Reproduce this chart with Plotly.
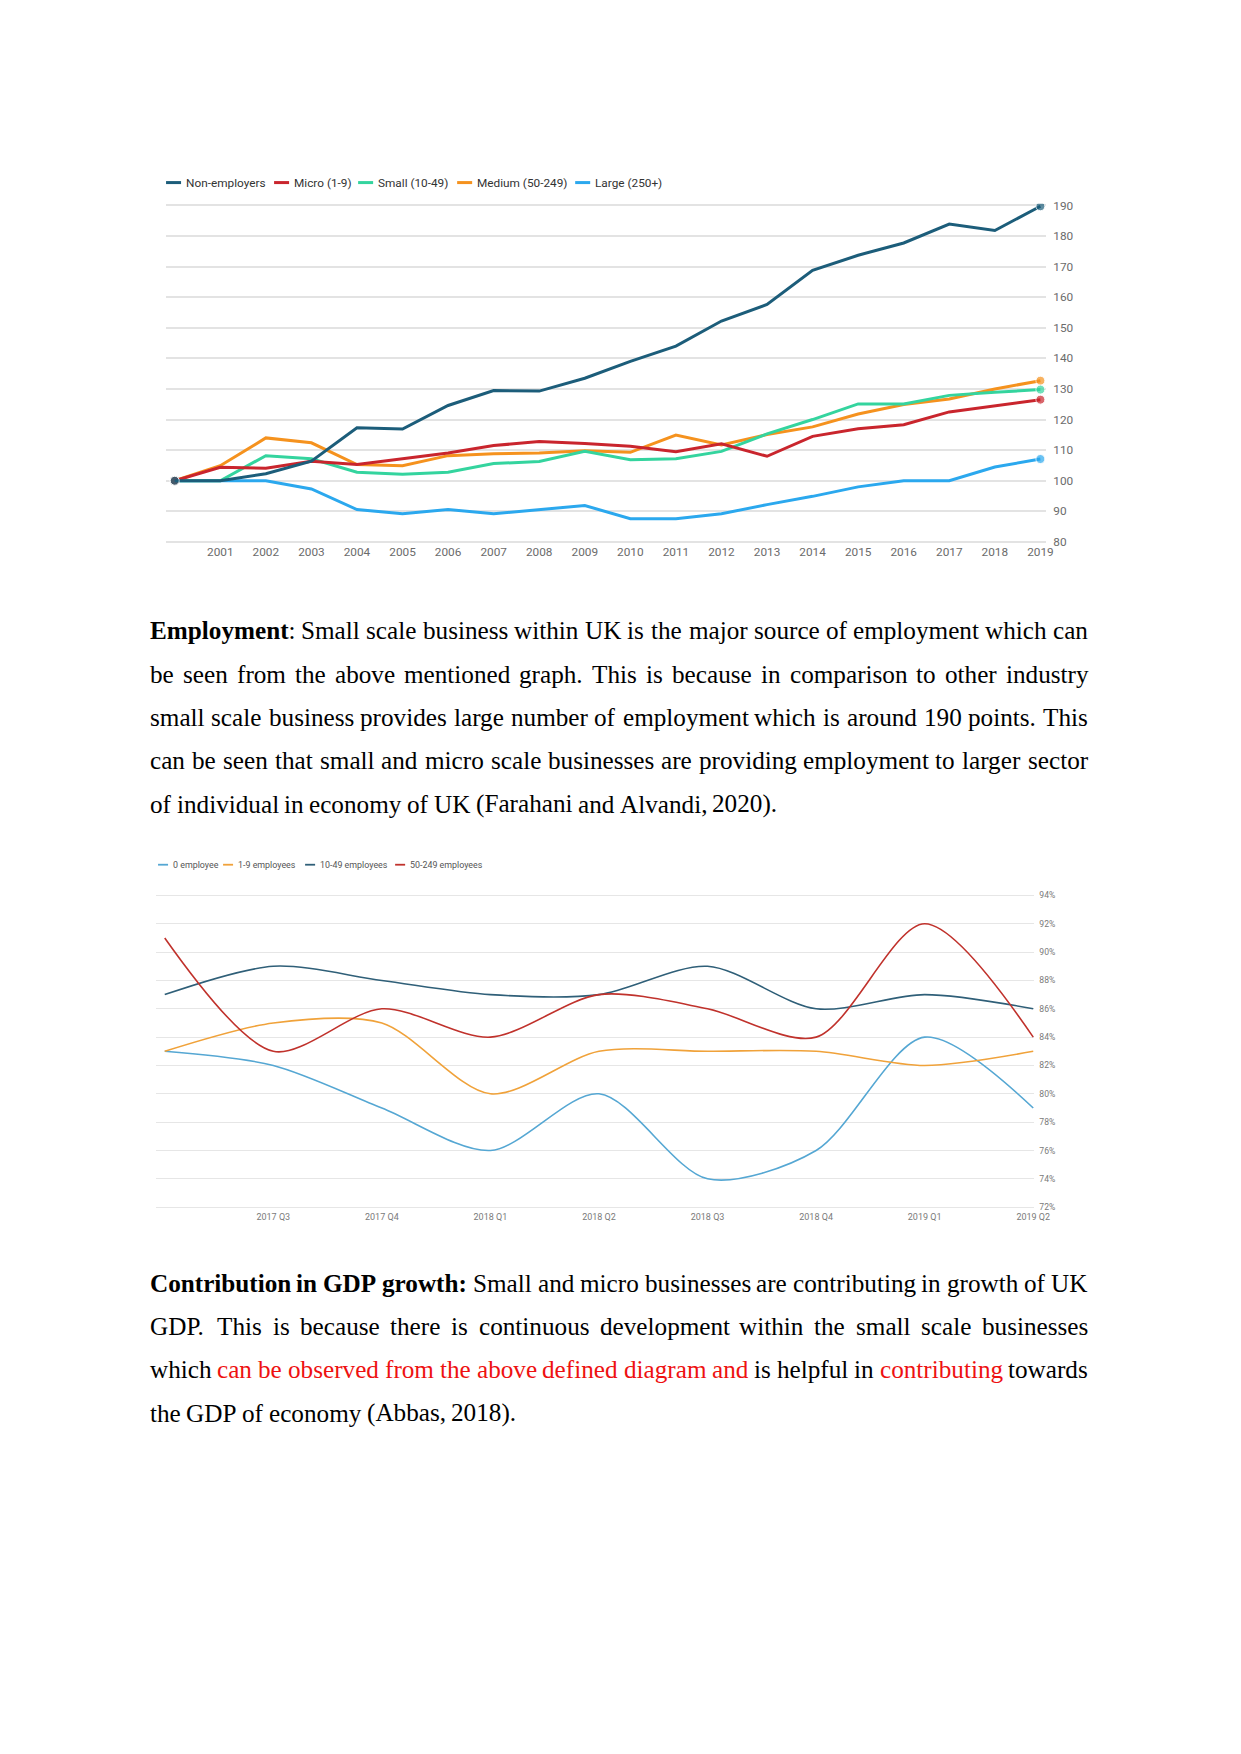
import html
import plotly.graph_objects as go

W, H = 1241, 1754

# ---------------- Chart 1 data: employment index (2000 = 100) ----------------
years = list(range(2000, 2020))
year_ticks = list(range(2001, 2020))
index_ticks = list(range(80, 200, 10))
series1_names = ["Non-employers", "Micro (1-9)", "Small (10-49)", "Medium (50-249)", "Large (250+)"]
non_employers = [100, 100, 102.3, 106.4, 117.3, 116.9, 124.6, 129.5, 129.3, 133.5, 139.0, 144.0, 152.2, 157.6, 168.8, 173.7, 177.7, 183.9, 181.8, 189.7]
micro = [100, 104.4, 104.1, 106.4, 105.3, 107.1, 109.1, 111.5, 112.8, 112.2, 111.3, 109.5, 112.1, 108.0, 114.5, 117.0, 118.3, 122.5, 124.6, 126.5]
small = [100, 100, 108.2, 107.2, 102.8, 102.1, 102.8, 105.6, 106.3, 109.6, 106.9, 107.2, 109.6, 115.3, 120.0, 125.1, 125.1, 127.9, 128.9, 129.8]
medium = [100, 104.9, 114.0, 112.4, 105.3, 104.9, 108.2, 108.8, 109.1, 109.8, 109.3, 114.9, 111.7, 115.1, 117.6, 121.8, 124.9, 126.7, 130.0, 132.7]
large = [100, 100, 100, 97.3, 90.6, 89.2, 90.6, 89.2, 90.6, 91.9, 87.6, 87.6, 89.2, 92.2, 94.9, 98.0, 100, 100, 104.5, 107.1]
series1_values = [non_employers, micro, small, medium, large]
series1_colors = ["#1c5d7a", "#c9252d", "#34d49e", "#f5921e", "#2ba8ee"]

# ---------------- Chart 2 data: quarterly percentages ----------------
quarters = ["2017 Q2", "2017 Q3", "2017 Q4", "2018 Q1", "2018 Q2", "2018 Q3", "2018 Q4", "2019 Q1", "2019 Q2"]
quarter_ticks = quarters[1:]
pct_ticks = list(range(72, 96, 2))
pct_labels = [f"{v}%" for v in pct_ticks]
series2_names = ["0 employee", "1-9 employees", "10-49 employees", "50-249 employees"]
emp_0 = [83, 82, 79, 76, 80, 74, 76, 84, 79]
emp_1_9 = [83, 85, 85, 80, 83, 83, 83, 82, 83]
emp_10_49 = [87, 89, 88, 87, 87, 89, 86, 87, 86]
emp_50_249 = [91, 83, 86, 84, 87, 86, 84, 92, 84]
series2_values = [emp_0, emp_1_9, emp_10_49, emp_50_249]
series2_colors = ["#55a7d3", "#f0a23a", "#2f5f78", "#c0322c"]

# ---------------- Body text ----------------
para1 = [
    "**Employment**: Small scale business within UK is the major source of employment which can",
    "be seen from the above mentioned graph. This is because in comparison to other industry",
    "small scale business provides large number of employment which is around 190 points. This",
    "can be seen that small and micro scale businesses are providing employment to larger sector",
    "of individual in economy of UK (Farahani and Alvandi, 2020).",
]
para2 = [
    "**Contribution in GDP growth:** Small and micro businesses are contributing in growth of UK",
    "GDP. This is because there is continuous development within the small scale businesses",
    "which {can be observed from the above defined diagram and} is helpful in {contributing} towards",
    "the GDP of economy (Abbas, 2018).",
]

# page-pixel helpers (with a small calibration for the capture)
SX = 1 / 0.9868


def X(x):
    return x * SX


def Y(y):
    return (y - 4.7) / 0.9944


def px(x):
    return X(x) / W


def py(y):
    return 1 - Y(y) / H


fig = go.Figure()

for name, vals, col in reversed(list(zip(series1_names, series1_values, series1_colors))):
    sizes = [0] * len(vals)
    sizes[0] = 9
    sizes[-1] = 9
    fig.add_trace(go.Scatter(
        x=years, y=vals, name=name, mode="lines+markers",
        line=dict(color=col, width=3), marker=dict(size=sizes, color=col),
        xaxis="x", yaxis="y", showlegend=False))

for name, vals, col in zip(series2_names, series2_values, series2_colors):
    fig.add_trace(go.Scatter(
        x=quarters, y=vals, name=name, mode="lines",
        line=dict(color=col, width=1.6, shape="spline", smoothing=0.85),
        xaxis="x2", yaxis="y2", showlegend=False))

tick1 = dict(family="Roboto", size=11.8, color="#6b6b6b")
tick2x = dict(family="Roboto", size=9, color="#7a7a7a")
tick2y = dict(family="Roboto", size=8.6, color="#7a7a7a")

fig.update_layout(
    width=W, height=H, margin=dict(l=0, r=0, t=0, b=0),
    paper_bgcolor="white", plot_bgcolor="white", showlegend=False,
    font=dict(family="Roboto"),
    xaxis=dict(domain=[px(166), px(1046)], range=[1999.81, 2019.13], tickmode="array",
               tickvals=year_ticks, showgrid=False, zeroline=False, showline=False,
               ticks="", tickfont=tick1, anchor="y", fixedrange=True),
    yaxis=dict(domain=[py(542.0 + 1.53), py(205.2 - 1.53)], range=[79.5, 190.5], side="right",
               tickmode="array", tickvals=index_ticks, gridcolor="#e3e3e3", gridwidth=1.5,
               zeroline=False, showline=False, ticks="", tickfont=tick1, anchor="x",
               ticklabelstandoff=6, fixedrange=True),
    xaxis2=dict(domain=[px(156), px(1034)], type="category", categoryorder="array",
                categoryarray=quarters, range=[-0.08, 8.01], tickmode="array",
                tickvals=quarter_ticks, showgrid=False, zeroline=False, showline=False,
                ticks="", tickfont=tick2x, anchor="y2", ticklabelstandoff=1, fixedrange=True),
    yaxis2=dict(domain=[py(1209.1), py(894.3)], range=[71.9, 94.1], side="right",
                tickmode="array", tickvals=pct_ticks, ticktext=pct_labels, gridcolor="#e6e6e6",
                gridwidth=1.2, zeroline=False, showline=False, ticks="", tickfont=tick2y,
                anchor="x2", ticklabelstandoff=4, fixedrange=True),
)

shapes = []
annotations = []

# Legend chart 1
legend1_x = [166, 274, 358, 457, 575]
for x0, name, col in zip(legend1_x, series1_names, series1_colors):
    shapes.append(dict(type="line", xref="paper", yref="paper", x0=px(x0), x1=px(x0 + 15),
                       y0=py(182.4), y1=py(182.4), line=dict(color=col, width=3)))
    annotations.append(dict(xref="paper", yref="paper", x=px(x0 + 19), y=py(182.4),
                            xanchor="left", yanchor="middle", showarrow=False, borderpad=0,
                            text=name, font=dict(family="Roboto", size=11.8, color="#333333")))

# Legend chart 2
legend2_x = [158, 223, 305, 395]
for x0, name, col in zip(legend2_x, series2_names, series2_colors):
    shapes.append(dict(type="line", xref="paper", yref="paper", x0=px(x0), x1=px(x0 + 10),
                       y0=py(865), y1=py(865), line=dict(color=col, width=1.8)))
    annotations.append(dict(xref="paper", yref="paper", x=px(x0 + 14), y=py(865),
                            xanchor="left", yanchor="middle", showarrow=False, borderpad=0,
                            text=name, font=dict(family="Roboto", size=8.9, color="#555555")))

# ---------------- Justified body text ----------------
REG = {' ': 250, '!': 333, '(': 333, ')': 333, ',': 250, '-': 333, '.': 250, ':': 278, ';': 278,
       'A': 722, 'B': 667, 'C': 667, 'D': 722, 'E': 611, 'F': 556, 'G': 722, 'H': 722, 'I': 333,
       'J': 389, 'K': 722, 'L': 611, 'M': 889, 'N': 722, 'O': 722, 'P': 556, 'Q': 722, 'R': 667,
       'S': 556, 'T': 611, 'U': 722, 'V': 722, 'W': 944, 'X': 722, 'Y': 722, 'Z': 611,
       'a': 444, 'b': 500, 'c': 444, 'd': 500, 'e': 444, 'f': 333, 'g': 500, 'h': 500, 'i': 278,
       'j': 278, 'k': 500, 'l': 278, 'm': 778, 'n': 500, 'o': 500, 'p': 500, 'q': 500, 'r': 333,
       's': 389, 't': 278, 'u': 500, 'v': 500, 'w': 722, 'x': 500, 'y': 500, 'z': 444}
BOLD = dict(REG)
BOLD.update({':': 333, 'A': 722, 'B': 667, 'C': 722, 'D': 722, 'E': 667, 'F': 611, 'G': 778,
             'H': 778, 'I': 389, 'J': 500, 'K': 778, 'L': 667, 'M': 944, 'N': 722, 'O': 778,
             'P': 611, 'Q': 778, 'R': 722, 'S': 556, 'T': 667, 'U': 722, 'W': 1000, 'Z': 667,
             'a': 500, 'b': 556, 'd': 556, 'h': 556, 'j': 333, 'k': 556, 'm': 833, 'n': 556,
             'p': 556, 'q': 556, 'r': 444, 't': 333, 'u': 556})
for d in "0123456789":
    REG[d] = 500
    BOLD[d] = 500

FS = 25.2
TEXT_L, TEXT_R = X(151) - 2.2, X(1088) - 2.2


def parse_words(line):
    words, runs, cur = [], [], ""
    bold = red = False
    i = 0

    def flush():
        nonlocal cur
        if cur:
            runs.append((cur, bold, red))
            cur = ""

    while i < len(line):
        if line.startswith("**", i):
            flush(); bold = not bold; i += 2; continue
        ch = line[i]
        if ch == "{":
            flush(); red = True; i += 1; continue
        if ch == "}":
            flush(); red = False; i += 1; continue
        if ch == " ":
            flush()
            if runs:
                words.append(runs)
            runs = []
            i += 1
            continue
        cur += ch
        i += 1
    flush()
    if runs:
        words.append(runs)
    return words


def word_width(runs):
    tot = 0
    for t, b, r in runs:
        tbl = BOLD if b else REG
        tot += sum(tbl.get(c, 500) for c in t)
    return tot * FS / 1000.0


def word_html(runs):
    out = ""
    for t, b, r in runs:
        s = html.escape(t)
        if b:
            s = "<b>" + s + "</b>"
        if r:
            s = '<span style="color:#ee1111">' + s + "</span>"
        out += s
    return out


def add_paragraph(lines, y_first, spacing):
    for li, line in enumerate(lines):
        words = parse_words(line)
        widths = [word_width(w) for w in words]
        last = li == len(lines) - 1
        if last or len(words) < 2:
            gap = REG[' '] * FS / 1000.0
        else:
            gap = (TEXT_R - TEXT_L - sum(widths)) / (len(words) - 1)
        x = TEXT_L
        yc = y_first + li * spacing
        for w, wd in zip(words, widths):
            annotations.append(dict(xref="paper", yref="paper", x=x / W, y=1 - yc / H,
                                    xanchor="left", yanchor="middle", showarrow=False,
                                    borderpad=0, text=word_html(w),
                                    font=dict(family="Liberation Serif", size=FS, color="#000000")))
            x += wd + gap


add_paragraph(para1, 629.8, 43.6)
add_paragraph(para2, 1286.3, 43.6)

fig.update_layout(shapes=shapes, annotations=annotations)
fig.write_html("out.html")
